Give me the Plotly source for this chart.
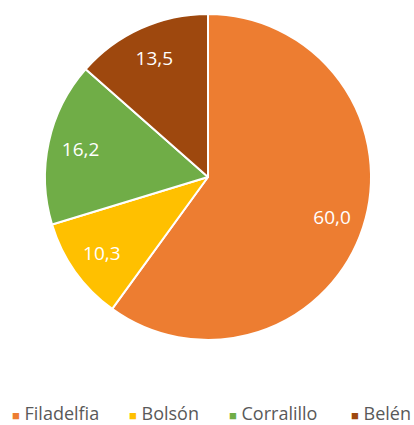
import plotly.graph_objects as go

labels = ["Filadelfia", "Bolsón", "Corralillo", "Belén"]
values = [60.0, 10.3, 16.2, 13.5]
colors = ["#ED7D31", "#FFC000", "#70AD47", "#9E480E"]

dom = dict(x=[45/414, 371/414], y=[1-341/425, 1-13/425])

fig = go.Figure()
# base pie with slices
fig.add_trace(go.Pie(
    labels=labels, values=values, sort=False, direction="clockwise", rotation=0,
    marker=dict(colors=colors, line=dict(color="white", width=2)),
    textinfo="none", domain=dom, showlegend=False,
    hoverinfo="label+value",
))
# transparent ring overlay used only to place value labels at ~0.8 radius
fig.add_trace(go.Pie(
    labels=labels, values=values, sort=False, direction="clockwise", rotation=0,
    hole=0.6,
    marker=dict(colors=["rgba(0,0,0,0)"] * len(labels), line=dict(width=0)),
    texttemplate="%{value:.1f}", textposition="inside", insidetextorientation="horizontal",
    textfont=dict(color="white", size=19, family="Open Sans"),
    domain=dom, showlegend=False, hoverinfo="skip",
))

# legend: one item per annotation (left edges in pixels)
legend_x = [11, 128, 228, 350]
for l, c, lx in zip(labels, colors, legend_x):
    fig.add_annotation(
        text=f'<span style="color:{c};font-size:13px">■</span>\u00a0{l}',
        x=lx/414, y=1-413/425, xref="paper", yref="paper",
        xanchor="left", yanchor="middle", showarrow=False, borderpad=0,
        font=dict(size=18, color="#595959", family="Open Sans"),
    )

fig.update_layout(
    width=414, height=425, margin=dict(l=0, r=0, t=0, b=0),
    separators=",.",
    paper_bgcolor="white", plot_bgcolor="white",
    showlegend=False,
)
fig.write_html("out.html", config={"displayModeBar": False},
               post_script="document.body.style.margin='0px';")
